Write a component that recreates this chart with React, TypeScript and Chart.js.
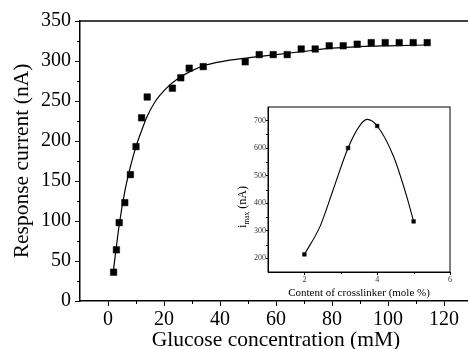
import React, { useEffect, useRef } from "react";
import { Chart, registerables } from "chart.js";

Chart.register(...registerables);

// Main chart data
const glucoseX = [2, 3, 4, 6, 8, 10, 12, 14, 23, 26, 29, 34, 49, 54, 59, 64, 69, 74, 79, 84, 89, 94, 99, 104, 109, 114];
const currentY = [36, 64, 98, 123, 158, 193, 229, 255, 266, 279, 291, 293, 299, 308, 308, 308, 315, 315, 319, 319, 321, 323, 323, 323, 323, 323];
const fitX = [2, 4, 6, 8, 10, 12, 14, 17, 20, 25, 30, 35, 40, 50, 60, 70, 80, 90, 100, 114];
const fitY = [40, 95, 137, 168, 193, 213, 231, 250, 263, 278, 288, 295, 299, 304, 308, 312, 316, 318, 319, 320];
const xTicks = [0, 20, 40, 60, 80, 100, 120];
const xMinor = [10, 30, 50, 70, 90, 110];
const yTicks = [0, 50, 100, 150, 200, 250, 300, 350];
const yMinor = [25, 75, 125, 175, 225, 275, 325];

// Inset data
const insetX = [2, 3.2, 4, 5];
const insetY = [214, 601, 681, 334];
const insetFitX = [2, 2.43, 2.79, 3.2, 3.53, 3.73, 4, 4.45, 4.81, 5];
const insetFitY = [214, 316, 449, 601, 684, 705, 681, 570, 425, 334];
const insetXTicks = [2, 4, 6];
const insetXMinor = [3, 5];
const insetYTicks = [200, 300, 400, 500, 600, 700];
const insetYMinor = [250, 350, 450, 550, 650];

const SERIF = "'Liberation Serif', 'Times New Roman', serif";

function minorTicksPlugin(id: string, xs: number[], ys: number[], len: number, box: boolean, topLine: boolean) {
  return {
    id,
    afterDraw(chart: any) {
      const { ctx, chartArea } = chart;
      const x = chart.scales.x;
      const y = chart.scales.y;
      ctx.save();
      ctx.strokeStyle = "#000";
      ctx.lineWidth = 1;
      ctx.beginPath();
      xs.forEach((v) => {
        const px = Math.round(x.getPixelForValue(v)) + 0.5;
        ctx.moveTo(px, chartArea.bottom);
        ctx.lineTo(px, chartArea.bottom + len);
      });
      ys.forEach((v) => {
        const py = Math.round(y.getPixelForValue(v)) + 0.5;
        ctx.moveTo(chartArea.left, py);
        ctx.lineTo(chartArea.left - len, py);
      });
      ctx.stroke();
      if (box) {
        ctx.lineWidth = 1;
        ctx.strokeRect(chartArea.left, chartArea.top, chartArea.right - chartArea.left, chartArea.bottom - chartArea.top);
      }
      if (topLine) {
        ctx.lineWidth = 1.5;
        ctx.beginPath();
        ctx.moveTo(chartArea.left, chartArea.top);
        ctx.lineTo(chartArea.right, chartArea.top);
        ctx.stroke();
      }
      ctx.restore();
    },
  };
}

const insetYTitlePlugin = {
  id: "insetYTitle",
  afterDraw(chart: any) {
    const { ctx } = chart;
    ctx.save();
    ctx.translate(17, 112);
    ctx.rotate(-Math.PI / 2);
    ctx.fillStyle = "#000";
    ctx.textBaseline = "alphabetic";
    const big = `12px ${SERIF}`;
    const small = `7.5px ${SERIF}`;
    ctx.font = big;
    const wI = ctx.measureText("i").width;
    const wRest = ctx.measureText(" (nA)").width;
    ctx.font = small;
    const wMax = ctx.measureText("max").width;
    const total = wI + wMax + wRest;
    let cx = -total / 2;
    const base = 4;
    ctx.font = big;
    ctx.fillText("i", cx, base);
    cx += wI;
    ctx.font = small;
    ctx.fillText("max", cx, base + 3);
    cx += wMax;
    ctx.font = big;
    ctx.fillText(" (nA)", cx, base);
    ctx.restore();
  },
};

export default function App() {
  const mainRef = useRef<HTMLCanvasElement | null>(null);
  const insetRef = useRef<HTMLCanvasElement | null>(null);

  useEffect(() => {
    const main = new Chart(mainRef.current!, {
      type: "scatter",
      data: {
        datasets: [
          {
            label: "fit",
            data: fitX.map((x, i) => ({ x, y: fitY[i] })),
            showLine: true,
            borderColor: "#000",
            borderWidth: 1.2,
            pointRadius: 0,
            cubicInterpolationMode: "monotone",
          },
          {
            label: "data",
            data: glucoseX.map((x, i) => ({ x, y: currentY[i] })),
            pointStyle: "rect",
            pointRadius: 4.6,
            pointBorderWidth: 0.5,
            borderColor: "#000",
            backgroundColor: "#000",
            showLine: false,
          },
        ],
      },
      options: {
        animation: false,
        responsive: false,
        events: [],
        layout: { padding: { left: 0, top: 21, right: 8, bottom: 0 } },
        plugins: { legend: { display: false }, tooltip: { enabled: false } },
        scales: {
          x: {
            type: "linear",
            min: -10,
            max: 130,
            afterBuildTicks: (s: any) => {
              s.ticks = xTicks.map((v) => ({ value: v }));
            },
            afterFit: (s: any) => {
              s.height = 48;
            },
            grid: { drawOnChartArea: false, color: "#000", tickLength: 5, tickWidth: 1 },
            border: { display: true, color: "#000", width: 1.5 },
            ticks: { color: "#000", font: { family: SERIF, size: 20 }, padding: 2, maxRotation: 0 },
            title: {
              display: true,
              text: "Glucose concentration (mM)",
              color: "#000",
              font: { family: SERIF, size: 21.5, lineHeight: 0.85 },
              padding: { top: 0, bottom: 0 },
            },
          },
          y: {
            type: "linear",
            min: 0,
            max: 350,
            afterBuildTicks: (s: any) => {
              s.ticks = yTicks.map((v) => ({ value: v }));
            },
            afterFit: (s: any) => {
              s.width = 80;
            },
            grid: { drawOnChartArea: false, color: "#000", tickLength: 5, tickWidth: 1 },
            border: { display: true, color: "#000", width: 1.5 },
            ticks: { color: "#000", font: { family: SERIF, size: 20 }, padding: 4 },
            title: {
              display: true,
              text: "Response current (nA)",
              color: "#000",
              font: { family: SERIF, size: 21.5, lineHeight: 1.0 },
              padding: { top: 12, bottom: 0 },
            },
          },
        },
      },
      plugins: [minorTicksPlugin("mainMinor", xMinor, yMinor, 3, false, true)],
    } as any);

    const inset = new Chart(insetRef.current!, {
      type: "scatter",
      data: {
        datasets: [
          {
            label: "fit",
            data: insetFitX.map((x, i) => ({ x, y: insetFitY[i] })),
            showLine: true,
            borderColor: "#000",
            borderWidth: 1.1,
            pointRadius: 0,
            cubicInterpolationMode: "monotone",
          },
          {
            label: "data",
            data: insetX.map((x, i) => ({ x, y: insetY[i] })),
            pointStyle: "rect",
            pointRadius: 2.6,
            pointBorderWidth: 0.5,
            borderColor: "#000",
            backgroundColor: "#000",
            showLine: false,
          },
        ],
      },
      options: {
        animation: false,
        responsive: false,
        events: [],
        layout: { padding: { left: 0, top: 12, right: 15, bottom: 0 } },
        plugins: { legend: { display: false }, tooltip: { enabled: false } },
        scales: {
          x: {
            type: "linear",
            min: 1,
            max: 6,
            afterBuildTicks: (s: any) => {
              s.ticks = insetXTicks.map((v) => ({ value: v }));
            },
            afterFit: (s: any) => {
              s.height = 28;
            },
            grid: { drawOnChartArea: false, color: "#000", tickLength: 3, tickWidth: 1 },
            border: { display: true, color: "#000", width: 1 },
            ticks: { color: "#333", font: { family: SERIF, size: 8 }, padding: 0, maxRotation: 0 },
            title: {
              display: true,
              text: "Content of crosslinker (mole %)",
              color: "#000",
              font: { family: SERIF, size: 11, lineHeight: 1.0 },
              padding: { top: 0, bottom: 1 },
            },
          },
          y: {
            type: "linear",
            min: 150,
            max: 750,
            afterBuildTicks: (s: any) => {
              s.ticks = insetYTicks.map((v) => ({ value: v }));
            },
            afterFit: (s: any) => {
              s.width = 43;
            },
            grid: { drawOnChartArea: false, color: "#000", tickLength: 2, tickWidth: 1 },
            border: { display: true, color: "#000", width: 1 },
            ticks: { color: "#333", font: { family: SERIF, size: 8 }, padding: 0 },
          },
        },
      },
      plugins: [minorTicksPlugin("insetMinor", insetXMinor, insetYMinor, 2, true, false), insetYTitlePlugin],
    } as any);

    return () => {
      main.destroy();
      inset.destroy();
    };
  }, []);

  return (
    <div
      style={{
        position: "fixed",
        left: 0,
        top: 0,
        width: 468,
        height: 349,
        overflow: "hidden",
        background: "#fff",
      }}
    >
      <canvas ref={mainRef} width={480} height={349} style={{ position: "absolute", left: 0, top: 0, width: 480, height: 349 }} />
      <canvas ref={insetRef} width={240} height={205} style={{ position: "absolute", left: 225, top: 95, width: 240, height: 205 }} />
    </div>
  );
}
